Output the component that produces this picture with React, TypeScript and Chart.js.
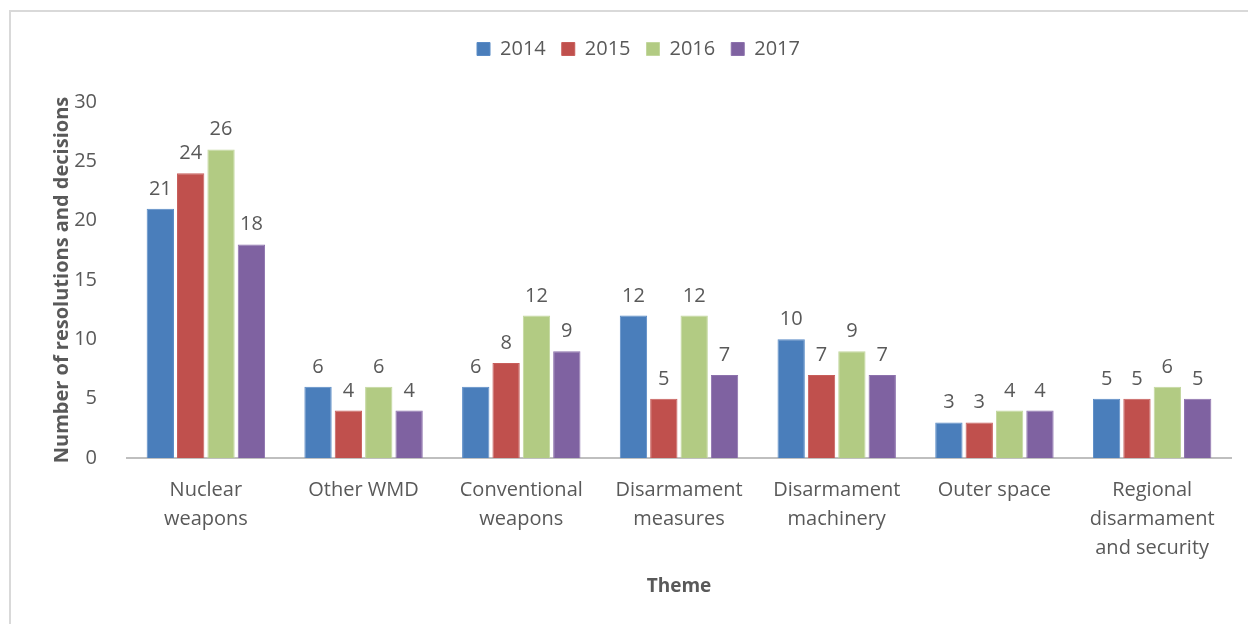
import React, { useEffect, useRef } from "react";
import { Chart, registerables } from "chart.js";

Chart.register(...registerables);

const categories: (string | string[])[] = [
  ["Nuclear", "weapons"],
  "Other WMD",
  ["Conventional", "weapons"],
  ["Disarmament", "measures"],
  ["Disarmament", "machinery"],
  "Outer space",
  ["Regional", "disarmament", "and security"],
];
const seriesNames = ["2014", "2015", "2016", "2017"];
const values2014 = [21, 6, 6, 12, 10, 3, 5];
const values2015 = [24, 4, 8, 5, 7, 3, 5];
const values2016 = [26, 6, 12, 12, 9, 4, 6];
const values2017 = [18, 4, 9, 7, 7, 4, 5];
const yTicks = [0, 5, 10, 15, 20, 25, 30];

const fills = ["#4a7ebb", "#c0504d", "#b2cb83", "#7f62a1"];
const borders = ["#5a8bc6", "#c85e5b", "#c3d79e", "#8d72ad"];
const textColor = "#595959";
const fontFamily = "'Open Sans', sans-serif";

const valueLabels = {
  id: "valueLabels",
  afterDatasetsDraw(chart: any) {
    const ctx = chart.ctx;
    ctx.save();
    ctx.font = `20px ${fontFamily}`;
    ctx.fillStyle = textColor;
    ctx.textAlign = "center";
    ctx.textBaseline = "alphabetic";
    chart.data.datasets.forEach((ds: any, i: number) => {
      const meta = chart.getDatasetMeta(i);
      meta.data.forEach((el: any, j: number) => {
        ctx.fillText(String(ds.data[j]), el.x, el.y - 14);
      });
    });
    ctx.restore();
  },
};

const legendGap = {
  id: "legendGap",
  beforeInit(chart: any) {
    const legend = chart.legend;
    if (!legend) return;
    const orig = legend.fit;
    legend.fit = function () {
      orig.call(this);
      this.height += 33;
    };
  },
};

export default function App() {
  const ref = useRef<HTMLCanvasElement | null>(null);
  useEffect(() => {
    if (!ref.current) return;
    const all = [values2014, values2015, values2016, values2017];
    const chart = new Chart(ref.current, {
      type: "bar",
      data: {
        labels: categories,
        datasets: seriesNames.map((name, i) => ({
          label: name,
          data: all[i],
          backgroundColor: fills[i],
          borderColor: borders[i],
          borderWidth: 1,
          barPercentage: 0.9,
          categoryPercentage: 0.77,
        })),
      },
      options: {
        responsive: false,
        animation: false,
        layout: { padding: { left: 46, right: 17, top: 23, bottom: 21 } },
        plugins: {
          tooltip: { enabled: false },
          legend: {
            position: "top",
            labels: {
              boxWidth: 13,
              boxHeight: 13,
              padding: 16,
              color: textColor,
              font: { family: fontFamily, size: 20 },
            },
          },
        },
        scales: {
          x: {
            grid: { display: false },
            border: { display: true, color: "#bfbfbf", width: 2 },
            ticks: {
              color: textColor,
              font: { family: fontFamily, size: 20, lineHeight: 1.45 },
              padding: 10,
              maxRotation: 0,
              autoSkip: false,
            },
            title: {
              display: true,
              text: "Theme",
              color: textColor,
              font: { family: fontFamily, size: 19, weight: "bold" },
              padding: { top: 4, bottom: 5 },
            },
            afterFit: (s: any) => {
              s.height = 624 - 21 - 458;
            },
          },
          y: {
            min: 0,
            max: 30,
            grid: { display: false },
            border: { display: false },
            afterBuildTicks: (s: any) => {
              s.ticks = yTicks.map((v) => ({ value: v }));
            },
            ticks: {
              color: textColor,
              font: { family: fontFamily, size: 20 },
              padding: 22,
            },
            title: {
              display: true,
              text: "Number of resolutions and decisions",
              color: textColor,
              font: { family: fontFamily, size: 20, weight: "bold" },
              padding: 4,
            },
            afterFit: (s: any) => {
              s.width = 127 - 46;
            },
          },
        },
      },
      plugins: [valueLabels, legendGap],
    });
    return () => chart.destroy();
  }, []);
  return (
    <div style={{ position: "absolute", left: 0, top: 0, width: 1248, height: 624, background: "#fff", overflow: "hidden" }}>
      <div
        style={{
          position: "absolute",
          left: 9,
          top: 10,
          width: 1300,
          height: 700,
          border: "2px solid #d9d9d9",
        }}
      />
      <canvas ref={ref} width={1248} height={624} style={{ position: "absolute", left: 0, top: 0 }} />
    </div>
  );
}
